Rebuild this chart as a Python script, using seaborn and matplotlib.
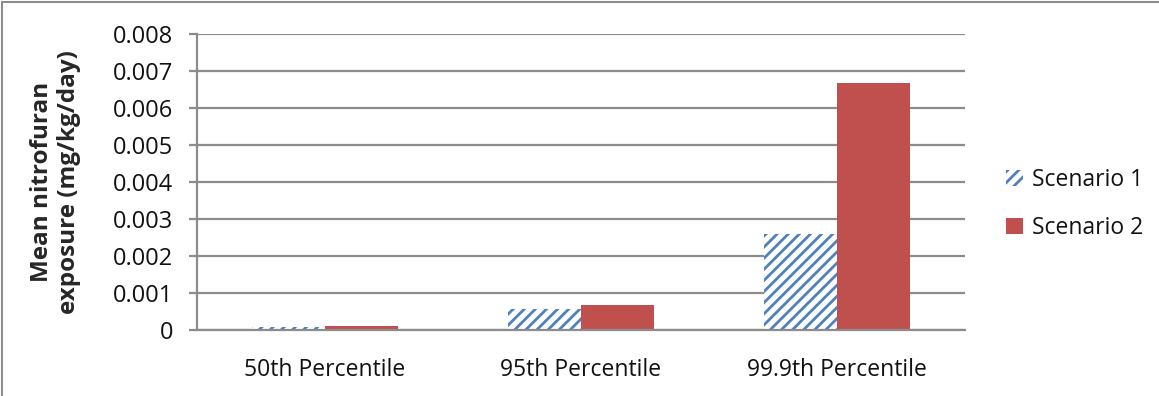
import matplotlib
matplotlib.use("Agg")
import matplotlib.pyplot as plt
from matplotlib.patches import Patch
from matplotlib.lines import Line2D
import pandas as pd
import seaborn as sns

categories = ["50th Percentile", "95th Percentile", "99.9th Percentile"]
scenario_1 = [0.00007, 0.00056, 0.0026]
scenario_2 = [0.0001, 0.00068, 0.0067]
series_names = ["Scenario 1", "Scenario 2"]
y_ticks = [0, 0.001, 0.002, 0.003, 0.004, 0.005, 0.006, 0.007, 0.008]
y_tick_labels = ["0", "0.001", "0.002", "0.003", "0.004", "0.005", "0.006", "0.007", "0.008"]

df = pd.DataFrame({
    "Percentile": categories * 2,
    "Exposure": scenario_1 + scenario_2,
    "Scenario": [series_names[0]] * 3 + [series_names[1]] * 3,
})

sns.set_theme(style="white")
plt.rcParams["font.family"] = ["Open Sans", "DejaVu Sans"]
plt.rcParams["hatch.linewidth"] = 2.0

blue = "#4F81BD"
red = "#C0504D"
grid_col = "#8C8C8C"

fig = plt.figure(figsize=(11.59, 3.96), dpi=100)
ax = fig.add_axes([0.170, 0.1667, 0.6626, 0.7462])

sns.barplot(data=df, x="Percentile", y="Exposure", hue="Scenario",
            order=categories, hue_order=series_names,
            palette=[blue, red], width=0.572, saturation=1,
            legend=False, ax=ax)

n = len(categories)
for i, p in enumerate(ax.patches[:2 * n]):
    if i < n:
        p.set_facecolor("white")
        p.set_edgecolor(blue)
        p.set_hatch("///")
        p.set_linewidth(0)
    else:
        p.set_facecolor(red)
        p.set_edgecolor("none")
        p.set_linewidth(0)

ax.set_ylim(0, 0.008)
ax.set_xlim(-0.5, n - 0.5)
ax.set_yticks(y_ticks)
ax.set_yticklabels(y_tick_labels)
ax.yaxis.grid(True, color=grid_col, linewidth=1.6)
ax.set_axisbelow(True)
for side in ["top", "right"]:
    ax.spines[side].set_visible(False)
for side in ["left", "bottom"]:
    ax.spines[side].set_color(grid_col)
    ax.spines[side].set_linewidth(1.6)
ax.tick_params(axis="y", which="major", left=True, length=6, width=1.6,
               color=grid_col, labelsize=17, pad=11, labelcolor="#111111")
ax.tick_params(axis="x", which="major", bottom=False, labelsize=16.5,
               pad=14, labelcolor="#111111")
ax.set_xlabel("")
ax.set_ylabel("Mean nitrofuran\nexposure (mg/kg/day)", fontsize=17.5,
              fontweight="bold", labelpad=23, linespacing=1.15)

handles = [
    Patch(facecolor="white", edgecolor=blue, hatch="///", linewidth=0),
    Patch(facecolor=red, edgecolor="none", linewidth=0),
]
fig.legend(handles, series_names, loc="center left",
           bbox_to_anchor=(0.850, 0.485), frameon=False, fontsize=16.5,
           handlelength=0.75, handleheight=0.75, handletextpad=0.4,
           labelspacing=1.05, labelcolor="#111111")

# outer frame of the chart area
fig.add_artist(Line2D([0.002, 0.002], [0, 0.995], transform=fig.transFigure,
                      color=grid_col, linewidth=1.5))
fig.add_artist(Line2D([0.002, 1.0], [0.995, 0.995], transform=fig.transFigure,
                      color=grid_col, linewidth=1.5))

fig.savefig("out.png", dpi=100)
